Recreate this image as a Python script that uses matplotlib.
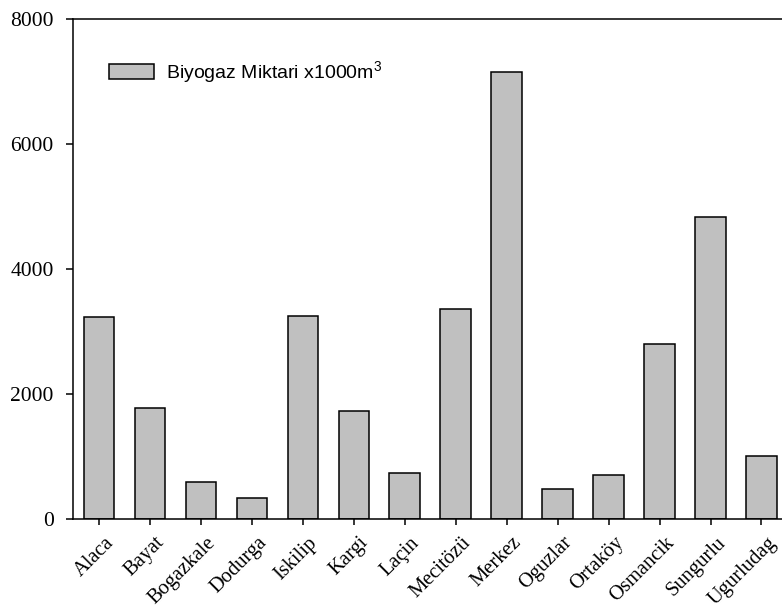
import matplotlib.pyplot as plt
import matplotlib.transforms as mtransforms
import numpy as np

# Biogas amounts per district (x1000 m3)
districts = ["Alaca", "Bayat", "Bogazkale", "Dodurga", "Iskilip", "Kargi", "Laçin",
             "Mecitözü", "Merkez", "Oguzlar", "Ortaköy", "Osmancik", "Sungurlu", "Ugurludag"]
biogas = [3237, 1781, 597, 331, 3253, 1733, 741, 3355, 7150, 475, 704, 2800, 4837, 1013]

plt.rcParams['font.family'] = 'Liberation Serif'
plt.rcParams['mathtext.fontset'] = 'custom'
plt.rcParams['mathtext.rm'] = 'Liberation Sans'
plt.rcParams['mathtext.default'] = 'regular'

fig = plt.figure(figsize=(7.82, 6.11), dpi=100)
ax = fig.add_axes([73/782, 92/611, 715/782, 500/611])

x = np.arange(len(districts))
ax.bar(x, biogas, width=0.6, color="#c0c0c0", edgecolor="black", linewidth=1.1,
       label="Biyogaz Miktari x1000m$^3$")

ax.set_xlim(-0.51, 13.52)
ax.set_ylim(0, 8000)
ax.set_yticks([0, 2000, 4000, 6000, 8000])
ax.set_xticks(x)
ax.set_xticklabels(districts, rotation=45, ha="right", va="center", rotation_mode="anchor")

for s in ax.spines.values():
    s.set_linewidth(1.1)
ax.tick_params(axis="y", direction="out", length=5, width=1.1, pad=9, labelsize=15.5)
ax.tick_params(axis="x", direction="out", length=4.3, width=1.1, pad=0, labelsize=14.8)

# push rotated labels down-right so their ends sit under the ticks
offset = mtransforms.ScaledTranslation(12/100, -15/100, fig.dpi_scale_trans)
for lbl in ax.get_xticklabels():
    lbl.set_transform(lbl.get_transform() + offset)

ax.legend(loc="upper left", bbox_to_anchor=(0.05, 0.919), frameon=False,
          prop={"family": "Liberation Sans", "size": 14},
          handlelength=2.32, handleheight=0.77, handletextpad=0.62, borderpad=0,
          borderaxespad=0)

fig.savefig("out.png", dpi=100)
